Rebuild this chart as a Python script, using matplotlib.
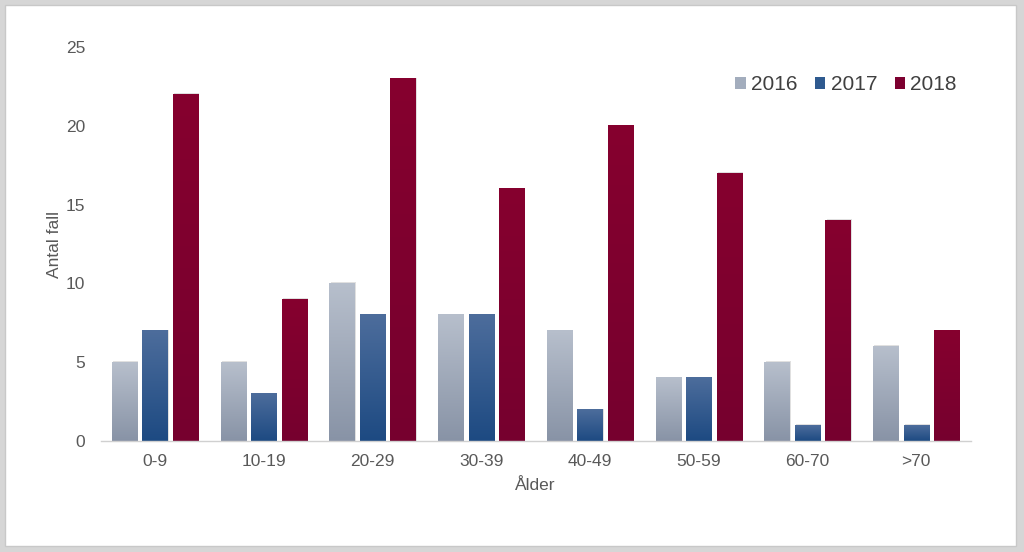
import matplotlib.pyplot as plt
import numpy as np
from matplotlib.patches import Rectangle, Patch
from matplotlib.colors import LinearSegmentedColormap

plt.rcParams['font.family'] = ['Liberation Sans', 'DejaVu Sans']

# data
categories = ['0-9', '10-19', '20-29', '30-39', '40-49', '50-59', '60-70', '>70']
years = ['2016', '2017', '2018']
values_2016 = [5, 5, 10, 8, 7, 4, 5, 6]
values_2017 = [7, 3, 8, 8, 2, 4, 1, 1]
values_2018 = [22, 9, 23, 16, 20, 17, 14, 7]

# gradient colours per series (top, bottom)
grads = [('#b7bfcc', '#8893a6'), ('#4d6d9c', '#1d4a82'), ('#86002f', '#76002e')]
legend_cols = ['#a3adbd', '#2f5a8f', '#7d0030']

fig = plt.figure(figsize=(10.24, 5.52), dpi=100)
fig.patch.set_facecolor('#d6d6d6')
# white panel with grey frame
panel = Rectangle((5 / 1024, 6 / 552), 1011 / 1024, 541 / 552,
                  transform=fig.transFigure, facecolor='white',
                  edgecolor='#c8c8c8', linewidth=1, zorder=-10)
fig.add_artist(panel)

ax = fig.add_axes([100.5 / 1024, (552 - 441) / 552, 870 / 1024, 394 / 552])
ax.set_facecolor('none')

x = np.arange(len(categories))
width = 0.23
step = 0.28
series = [values_2016, values_2017, values_2018]

for i, vals in enumerate(series):
    cmap = LinearSegmentedColormap.from_list('g%d' % i, [grads[i][1], grads[i][0]])
    grad = np.linspace(0, 1, 256).reshape(-1, 1)
    for xi, v in zip(x, vals):
        left = xi + (i - 1) * step - width / 2
        # soft shadow
        ax.add_patch(Rectangle((left + 0.012, 0), width, v + 0.06,
                               facecolor='#000000', alpha=0.12, linewidth=0, zorder=1))
        ax.imshow(grad, cmap=cmap, origin='lower', aspect='auto',
                  extent=(left, left + width, 0, v), zorder=2)

ax.set_xlim(-0.5, len(categories) - 0.5)
ax.set_ylim(0, 25)
ax.set_xticks(x)
ax.set_xticklabels(categories)
ax.set_yticks([0, 5, 10, 15, 20, 25])

for s in ['top', 'right', 'left']:
    ax.spines[s].set_visible(False)
ax.spines['bottom'].set_color('#d0d0d0')
ax.spines['bottom'].set_linewidth(1)
ax.tick_params(axis='both', length=0, labelsize=12.5, labelcolor='#595959')
ax.tick_params(axis='x', pad=9)
ax.tick_params(axis='y', pad=11)

ax.set_xlabel('Ålder', fontsize=12.5, color='#595959', labelpad=7)
ax.set_ylabel('Antal fall', fontsize=12.5, color='#595959', labelpad=3)

handles = [Patch(facecolor=c, edgecolor='none') for c in legend_cols]
ax.legend(handles, years, loc='upper right', bbox_to_anchor=(1.006, 0.976),
          ncol=3, frameon=False, fontsize=15, handlelength=0.5, handleheight=0.5,
          handletextpad=0.25, columnspacing=0.85, labelcolor='#404040')

fig.savefig('out.png', dpi=100, facecolor=fig.get_facecolor())
